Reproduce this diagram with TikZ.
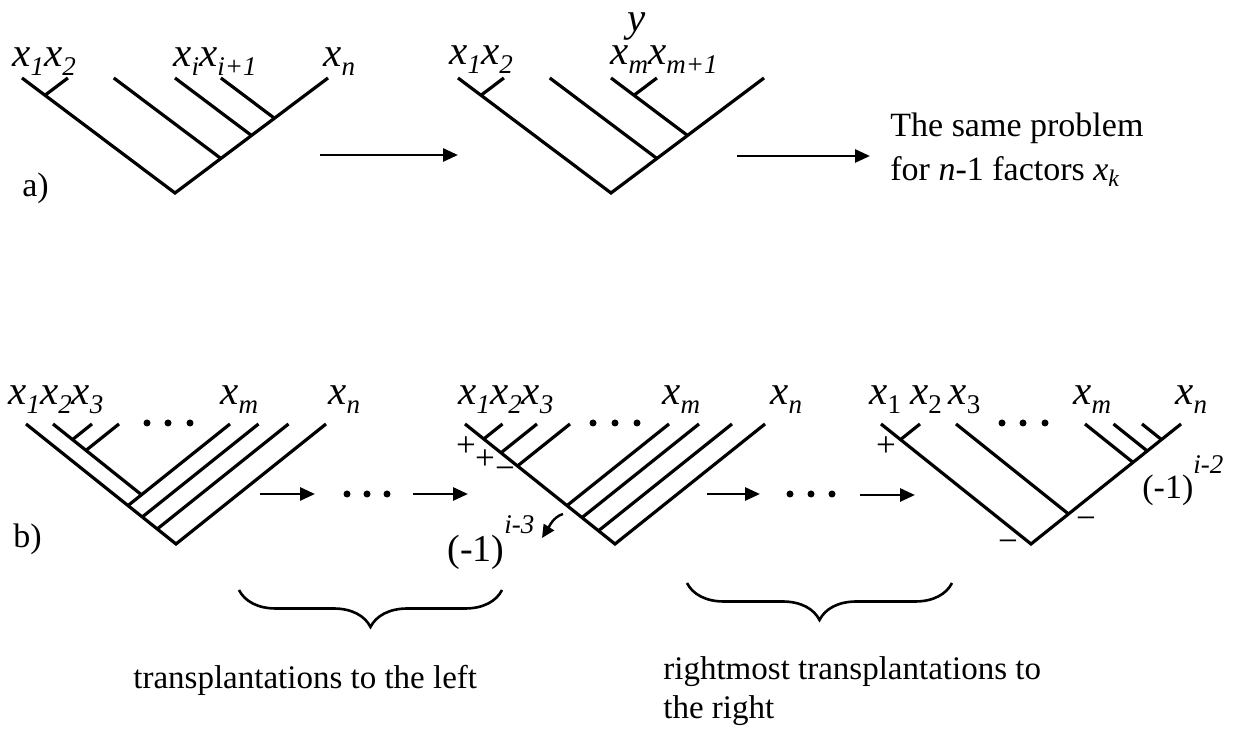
\documentclass[tikz,border=0pt]{standalone}
\usepackage{fontspec}
\setmainfont{Liberation Serif}
\usetikzlibrary{arrows.meta,decorations.pathreplacing}
\newcommand\xv[1]{\textit{x}\raisebox{-0.2em}{\fontsize{13.5}{13}\selectfont\textit{#1}}}
\newcommand\xr[1]{\textit{x}\raisebox{-0.2em}{\fontsize{13.5}{13}\selectfont #1}}
\newcommand\mone[2]{(-1)\raisebox{#2}{\fontsize{13.5}{12}\selectfont\textit{#1}}}
\tikzset{br/.style={line width=1.6pt},
 toptree/.style={x={(-7.65pt,5.75pt)},y={(7.65pt,5.75pt)}},
 bottree/.style={x={(-7.5pt,6pt)},y={(7.5pt,6pt)}},
 arr/.style={-{Triangle[length=7.5pt,width=6.5pt]},line width=1.4pt},
 curv/.style={-{Triangle[length=6.5pt,width=6pt]},line width=1.2pt},
 lab/.style={font=\fontsize{20.5}{22}\selectfont,inner sep=0pt,anchor=base west},
 txt/.style={font=\fontsize{17}{20}\selectfont,inner sep=0pt,anchor=base west},
 sgn/.style={font=\fontsize{17.5}{18}\selectfont,inner sep=0pt},
 brc/.style={decorate,decoration={brace,mirror,amplitude=18.5pt},line width=1.3pt}}
\begin{document}
\begin{tikzpicture}[x=0.5pt,y=-0.5pt]
\useasboundingbox (0,0) rectangle (1250,732);
% a) first tree
\begin{scope}[shift={(175,193)},toptree]
\draw[br] (10,0)--(0,0)--(0,10);
\draw[br] (8.5,0)--(8.5,1.5);
\foreach \t in {3,5,6.5}{\draw[br] (0,\t)--({10-\t},\t);}
\end{scope}
% a) second tree
\begin{scope}[shift={(611,193)},toptree]
\draw[br] (10,0)--(0,0)--(0,10);
\draw[br] (8.5,0)--(8.5,1.5);
\foreach \t in {3,5}{\draw[br] (0,\t)--({10-\t},\t);}
\draw[br] (3.5,5)--(3.5,6.5);
\end{scope}
\node[lab] (l1) at (12,67) {\xv{1}\xv{2}};
\node[lab] (li) at (173,67) {\xv{i}\xv{i+1}};
\node[lab] (ln) at (323,67) {\xv{n}};
\node[lab] (y) at (627,32) {\textit{y}};
\node[lab] (m1) at (449,65) {\xv{1}\xv{2}};
\node[lab] (mm) at (610,65) {\xv{m}\xv{m+1}};
\node[txt] (a) at (22,197) {a)};
\coordinate (p1) at (320,155); \coordinate (q1) at (458,155);
\coordinate (p2) at (737,156); \coordinate (q2) at (870,156);
\draw[arr] (p1)--(q1); \draw[arr] (p2)--(q2);
\node[txt,anchor=north west,align=left,font=\fontsize{17}{22}\selectfont] (same) at (890,113)
 {The same problem\\for \textit{n}-1 factors \textit{x}\textsubscript{\textit{k}}};
% b) first tree
\begin{scope}[shift={(176,544)},bottree]
\draw[br] (10,0)--(0,0)--(0,10);
\foreach \s in {3.2,2.25,1.25}{\draw[br] (\s,0)--(\s,{10-\s});}
\draw[br] (3.2,0.9)--(9.1,0.9);
\foreach \s in {7.8,6.9}{\draw[br] (\s,0.9)--(\s,{10-\s});}
\end{scope}
% b) second tree
\begin{scope}[shift={(615,544)},bottree]
\draw[br] (10,0)--(0,0)--(0,10);
\foreach \s in {8.75,7.6,6.5,3.2,2.2,1.1}{\draw[br] (\s,0)--(\s,{10-\s});}
\end{scope}
% b) third tree
\begin{scope}[shift={(1031,544)},bottree]
\draw[br] (10,0)--(0,0)--(0,10);
\draw[br] (8.7,0)--(8.7,1.3);
\foreach \t in {2.5,6.8,7.75,8.7}{\draw[br] (0,\t)--({10-\t},\t);}
\end{scope}
\node[lab] (b1) at (8,405) {\xv{1}\xv{2}\xv{3}};
\node[lab] (bm) at (220,405) {\xv{m}};
\node[lab] (bn) at (328,405) {\xv{n}};
\node[lab] (c1) at (458,405) {\xv{1}\xv{2}\xv{3}};
\node[lab] (cm) at (662,405) {\xv{m}};
\node[lab] (cn) at (770,405) {\xv{n}};
\node[lab] (d1) at (869,405) {\xr{1}\kern4.5pt\xr{2}\kern3.5pt\xr{3}};
\node[lab] (dm) at (1073,405) {\xv{m}};
\node[lab] (dn) at (1175,405) {\xv{n}};
\foreach \x in {147,168,190,593,615,637,1002,1023,1045}{\fill (\x,423) circle (1.75pt);}
\foreach \x in {347,367,387,790,811,832}{\fill (\x,494) circle (1.75pt);}
\coordinate (p3) at (260,494); \coordinate (q3) at (315,494);
\coordinate (p4) at (413,494); \coordinate (q4) at (468,494);
\coordinate (p5) at (707,494); \coordinate (q5) at (760,494);
\coordinate (p6) at (860,495); \coordinate (q6) at (915,495);
\foreach \k in {3,4,5,6}{\draw[arr] (p\k)--(q\k);}
\node[txt] (b) at (13,548) {b)};
\node[sgn] (s1) at (466,447) {+};
\node[sgn] (s2) at (485,460) {+};
\node[sgn] (s3) at (505,473) {−};
\node[sgn] (s4) at (886,447) {+};
\node[sgn] (s5) at (1086,523) {−};
\node[sgn] (s6) at (1008,546) {−};
\node[txt,font=\fontsize{19}{20}\selectfont] (e3) at (447,562) {\mone{i-3}{14pt}};
\node[txt] (e2) at (1142,499) {\mone{i-2}{12.5pt}};
\coordinate (k0) at (563,514); \coordinate (k1) at (542,538);
\draw[curv] (k0) .. controls (553,517) and (549,527) .. (k1);
% braces
\coordinate (bl1) at (239,590); \coordinate (br1) at (502,590);
\coordinate (bl2) at (687,583); \coordinate (br2) at (952,583);
\draw[brc] (bl1)--(br1); \draw[brc] (bl2)--(br2);
\node[txt,font=\fontsize{16.5}{20}\selectfont] (tl) at (133,689) {transplantations to the left};
\node[txt,anchor=north west,align=left,font=\fontsize{16.5}{19.5}\selectfont] (tr) at (663,656)
 {rightmost transplantations to\\the right};
\end{tikzpicture}
\end{document}
